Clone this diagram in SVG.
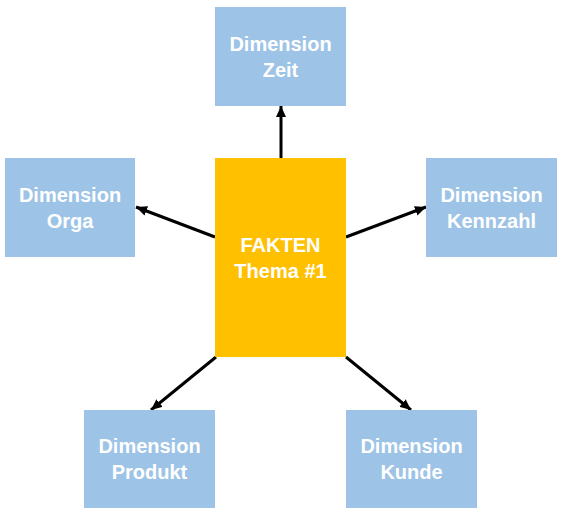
<svg xmlns="http://www.w3.org/2000/svg" width="563" height="516" viewBox="0 0 563 516">
<style>
.dim{fill:#9DC3E6}
.fact{fill:#FFC000}
.t{font-family:"Liberation Sans",Arial,sans-serif;font-weight:bold;font-size:20px;fill:#FFFFFF;text-anchor:middle}
.c{stroke:#000;stroke-width:3;fill:none;marker-end:url(#ah)}
</style>
<defs>
<marker id="ah" markerUnits="userSpaceOnUse" markerWidth="12" markerHeight="10" refX="11" refY="5" orient="auto">
<path d="M0,0 L11,5 L0,10 Z" fill="#000"/>
</marker>
</defs>
<rect width="563" height="516" fill="#fff"/>
<g id="connectors">
<line class="c" x1="281" y1="158" x2="281" y2="106"/>
<line class="c" x1="215" y1="237" x2="136" y2="207"/>
<line class="c" x1="346" y1="237" x2="426" y2="207"/>
<line class="c" x1="216" y1="357" x2="151" y2="410"/>
<line class="c" x1="346" y1="357" x2="411" y2="410"/>
</g>
<g id="fakten">
<rect class="fact" x="215" y="158" width="131" height="199"/>
<text class="t" x="280.5" y="252">FAKTEN</text>
<text class="t" x="280.5" y="278">Thema #1</text>
</g>
<g id="zeit">
<rect class="dim" x="215" y="7" width="131" height="99"/>
<text class="t" x="280.5" y="51">Dimension</text>
<text class="t" x="280.5" y="77">Zeit</text>
</g>
<g id="orga">
<rect class="dim" x="5" y="158" width="130" height="99"/>
<text class="t" x="70" y="202">Dimension</text>
<text class="t" x="70" y="228">Orga</text>
</g>
<g id="kennzahl">
<rect class="dim" x="426" y="158" width="131" height="99"/>
<text class="t" x="491.5" y="202">Dimension</text>
<text class="t" x="491.5" y="228">Kennzahl</text>
</g>
<g id="produkt">
<rect class="dim" x="84" y="410" width="131" height="98"/>
<text class="t" x="149.5" y="453">Dimension</text>
<text class="t" x="149.5" y="479">Produkt</text>
</g>
<g id="kunde">
<rect class="dim" x="346" y="410" width="131" height="98"/>
<text class="t" x="411.5" y="453">Dimension</text>
<text class="t" x="411.5" y="479">Kunde</text>
</g>
</svg>
